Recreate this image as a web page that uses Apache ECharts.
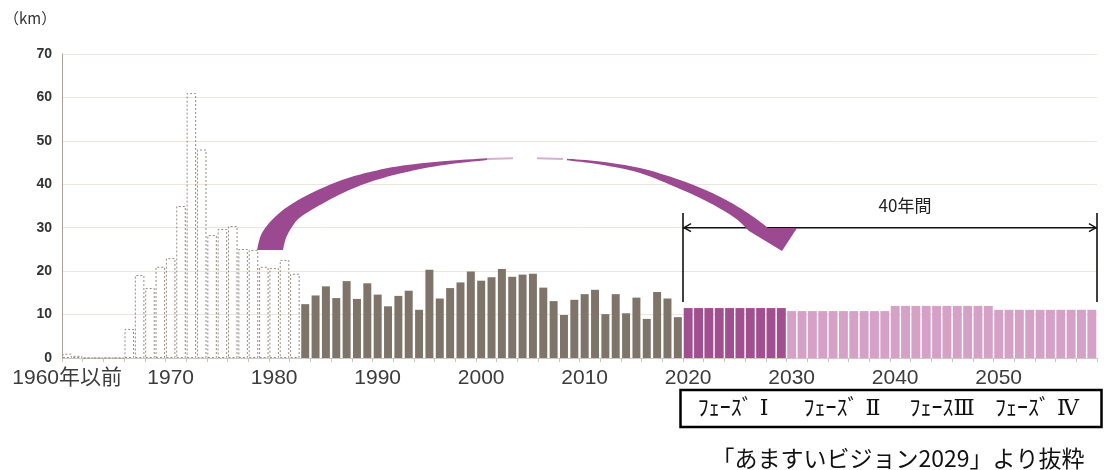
<!DOCTYPE html>
<html>
<head>
<meta charset="utf-8">
<script src="https://cdn.jsdelivr.net/npm/echarts@6/dist/echarts.min.js"></script>
<style>
  html, body { margin: 0; padding: 0; background: #ffffff; }
  #chart { width: 1104px; height: 470px; }
</style>
</head>
<body>
<div id="chart"></div>
<script>
// ---- Category axis: one slot per year; the first slot stands for everything up to 1960 ----
const firstYear = 1960;
const lastYear = 2059;
const firstLabel = '1960年以前';
const labelStep = 10;

// ---- Replacement length per year (km) ----
// 1960–1982: early records (outlined bars)
const earlyStart = 1960;
const earlyValues = [1.0, 0.5, 0, 0, 0, 0, 6.7, 19.1, 16.1, 21.0, 23.0, 35.0, 61.0, 48.0,
                     28.3, 29.7, 30.4, 25.1, 24.9, 21.0, 20.7, 22.6, 19.4];
// 1983–2019: results (solid bars)
const resultStart = 1983;
const resultValues = [12.4, 14.4, 16.5, 13.8, 17.7, 13.6, 17.2, 14.6, 11.9, 14.3, 15.5, 11.1,
                      20.3, 13.7, 16.1, 17.4, 19.9, 17.8, 18.6, 20.5, 18.7, 19.2, 19.4, 16.2,
                      13.1, 9.9, 13.4, 14.7, 15.7, 10.1, 14.7, 10.3, 13.9, 9.0, 15.2, 13.7, 9.4];
// 2020–2059: plan, four ten-year phases
const phase1Start = 2020;
const phase1Values = [11.5, 11.5, 11.5, 11.5, 11.5, 11.5, 11.5, 11.5, 11.5, 11.5];
const laterPhasesStart = 2030;
const phase2Values = [10.8, 10.8, 10.8, 10.8, 10.8, 10.8, 10.8, 10.8, 10.8, 10.8];
const phase3Values = [12.0, 12.0, 12.0, 12.0, 12.0, 12.0, 12.0, 12.0, 12.0, 12.0];
const phase4Values = [11.1, 11.1, 11.1, 11.1, 11.1, 11.1, 11.1, 11.1, 11.1, 11.1];

// ---- Texts ----
const unitText = '（km）';
const spanText = '40年間';
const phaseLabels = ['ﾌｪｰｽﾞ Ⅰ', 'ﾌｪｰｽﾞ Ⅱ', 'ﾌｪｰｽⅢ', 'ﾌｪｰｽﾞ Ⅳ'];
const sourceText = '「あますいビジョン2029」より抜粋';

// ---- Build category list and per-series data ----
const categories = [];
for (let y = firstYear; y <= lastYear; y++) {
  categories.push(y === firstYear ? firstLabel : String(y));
}
function place(values, startYear) {
  const out = categories.map(() => '-');
  values.forEach((v, i) => { out[startYear - firstYear + i] = v; });
  return out;
}

const COLORS = {
  result: '#7e7469',
  phase1: '#a0508f',
  phaseLater: '#d6a1c6',
  early: '#968b80',
  arrow: '#9b4a91',
  grid: '#ece5d9'
};

const chart = echarts.init(document.getElementById('chart'));

const hiddenAxis = { type: 'category', data: categories, show: false };

chart.setOption({
  animation: false,
  backgroundColor: '#ffffff',
  grid: { left: 62, right: 7, top: 54, bottom: 112, containLabel: false },
  xAxis: [
    {
      type: 'category',
      data: categories,
      axisLine: { show: true, lineStyle: { color: '#cfc9c1', width: 1 } },
      axisTick: { show: true, interval: 1, length: 4, lineStyle: { color: '#c9c3bb' } },
      axisLabel: {
        interval: labelStep - 1,
        margin: 10,
        color: '#3c3c3c',
        fontSize: 21,
        fontFamily: '"Liberation Sans", "Noto Sans CJK JP", sans-serif'
      },
      splitLine: { show: false }
    },
    hiddenAxis,
    hiddenAxis
  ],
  yAxis: {
    type: 'value',
    min: 0,
    max: 70,
    interval: 10,
    axisLine: { show: true, lineStyle: { color: '#aaa39b', width: 1 } },
    axisTick: { show: false },
    axisLabel: {
      margin: 10,
      color: '#333333',
      fontSize: 14,
      fontWeight: 'bold',
      fontFamily: '"Liberation Sans", sans-serif'
    },
    splitLine: { show: true, lineStyle: { color: COLORS.grid, width: 1 } }
  },
  series: [
    {
      name: 'early',
      type: 'bar',
      xAxisIndex: 0,
      barWidth: '92%',
      data: place(earlyValues, earlyStart),
      itemStyle: {
        color: 'rgba(255,255,255,0)',
        borderColor: COLORS.early,
        borderWidth: 1,
        borderType: [2, 2]
      }
    },
    {
      name: 'result',
      type: 'bar',
      xAxisIndex: 1,
      barWidth: '77%',
      data: place(resultValues, resultStart),
      itemStyle: { color: COLORS.result }
    },
    {
      name: 'phase1',
      type: 'bar',
      xAxisIndex: 2,
      stack: 'plan',
      barWidth: '86%',
      data: place(phase1Values, phase1Start),
      itemStyle: { color: COLORS.phase1 }
    },
    {
      name: 'phaseLater',
      type: 'bar',
      xAxisIndex: 2,
      stack: 'plan',
      barWidth: '86%',
      data: place(phase2Values.concat(phase3Values, phase4Values), laterPhasesStart),
      itemStyle: { color: COLORS.phaseLater }
    }
  ]
});

// ---- Annotations ----
// Catmull-Rom resampling so the curved arrow edges look smooth
function spline(pts, steps) {
  const out = [];
  for (let i = 0; i < pts.length - 1; i++) {
    const p0 = pts[Math.max(i - 1, 0)], p1 = pts[i], p2 = pts[i + 1], p3 = pts[Math.min(i + 2, pts.length - 1)];
    for (let s = 0; s < steps; s++) {
      const t = s / steps, t2 = t * t, t3 = t2 * t;
      out.push([
        0.5 * ((2 * p1[0]) + (-p0[0] + p2[0]) * t + (2 * p0[0] - 5 * p1[0] + 4 * p2[0] - p3[0]) * t2 + (-p0[0] + 3 * p1[0] - 3 * p2[0] + p3[0]) * t3),
        0.5 * ((2 * p1[1]) + (-p0[1] + p2[1]) * t + (2 * p0[1] - 5 * p1[1] + 4 * p2[1] - p3[1]) * t2 + (-p0[1] + 3 * p1[1] - 3 * p2[1] + p3[1]) * t3)
      ]);
    }
  }
  out.push(pts[pts.length - 1]);
  return out;
}

// Left half of the curved arrow: thick tail, tapering toward the top of the arc
const leftOuter = [[257, 250], [261, 235], [270, 222], [283, 210], [300, 199], [320, 189],
                   [345, 179], [370, 172], [400, 166], [440, 161.5], [487, 158.3]];
const leftInner = [[487, 160], [440, 165.5], [400, 173.5], [370, 182], [345, 192], [320, 205],
                   [300, 217.5], [292, 227], [286, 238], [283, 250]];
const leftShape = spline(leftOuter, 8).concat(spline(leftInner, 8));

// Right half: widening again and ending in the arrow head
const rightOuter = [[567, 158.7], [600, 161.5], [640, 168], [680, 180], [710, 192], [735, 205],
                    [755, 218], [768, 228]];
const rightHead = [[797, 228], [782, 251]];
const rightInner = [[749, 231], [735, 218], [710, 203], [680, 189], [640, 173], [600, 164.5], [567, 160.3]];
const rightShape = spline(rightOuter, 8).concat(rightHead, spline(rightInner, 8));

// Bracket for the 40-year span, tied to the category axis
const x2020 = chart.convertToPixel({ xAxisIndex: 0 }, '2020');
const x2021 = chart.convertToPixel({ xAxisIndex: 0 }, '2021');
const band = x2021 - x2020;
const spanLeft = x2020 - band / 2;
const spanRight = chart.convertToPixel({ xAxisIndex: 0 }, String(lastYear)) + band / 2;
const spanY = chart.convertToPixel({ yAxisIndex: 0 }, 30);

const lineStyle = { stroke: '#111111', lineWidth: 1.6 };
const textFont = '"Noto Sans CJK JP", sans-serif';
const phaseCenters = [733, 842, 942, 1037];

chart.setOption({
  graphic: [
    {
      type: 'text', left: 4, top: 11,
      style: { text: unitText, fill: '#333333', font: '15px ' + textFont }
    },
    { type: 'polygon', shape: { points: leftShape }, style: { fill: COLORS.arrow }, z: 10 },
    { type: 'polygon', shape: { points: rightShape }, style: { fill: COLORS.arrow }, z: 10 },
    { type: 'line', shape: { x1: 487, y1: 159, x2: 513, y2: 158.2 }, style: { stroke: '#d8aed2', lineWidth: 2 }, z: 10 },
    { type: 'line', shape: { x1: 537, y1: 158.2, x2: 563, y2: 159 }, style: { stroke: '#d8aed2', lineWidth: 2 }, z: 10 },

    { type: 'line', shape: { x1: spanLeft, y1: 213, x2: spanLeft, y2: 302 }, style: lineStyle, z: 11 },
    { type: 'line', shape: { x1: spanRight, y1: 213, x2: spanRight, y2: 302 }, style: lineStyle, z: 11 },
    { type: 'line', shape: { x1: spanLeft, y1: spanY, x2: spanRight, y2: spanY }, style: lineStyle, z: 9 },
    {
      type: 'polyline',
      shape: { points: [[spanLeft + 8, spanY - 4], [spanLeft + 1, spanY], [spanLeft + 8, spanY + 4]] },
      style: { stroke: '#111111', lineWidth: 1.4, fill: null }, z: 11
    },
    {
      type: 'polyline',
      shape: { points: [[spanRight - 8, spanY - 4], [spanRight - 1, spanY], [spanRight - 8, spanY + 4]] },
      style: { stroke: '#111111', lineWidth: 1.4, fill: null }, z: 11
    },
    {
      type: 'text', x: 905, y: 206,
      style: { text: spanText, fill: '#222222', font: '17px ' + textFont, textAlign: 'center', textVerticalAlign: 'middle' },
      z: 11
    },

    {
      type: 'rect', shape: { x: 680.5, y: 390, width: 421, height: 37 },
      style: { fill: '#ffffff', stroke: '#000000', lineWidth: 2.5 }, z: 11
    },
    ...phaseLabels.map((t, i) => ({
      type: 'text', x: phaseCenters[i], y: 409,
      style: { text: t, fill: '#111111', font: '22px "DejaVu Serif", "Noto Sans CJK JP", serif', textAlign: 'center', textVerticalAlign: 'middle' },
      z: 12
    })),
    {
      type: 'text', x: 898, y: 458,
      style: { text: sourceText, fill: '#111111', font: '23px ' + textFont, textAlign: 'center', textVerticalAlign: 'middle' },
      z: 12
    }
  ]
});
</script>
</body>
</html>
